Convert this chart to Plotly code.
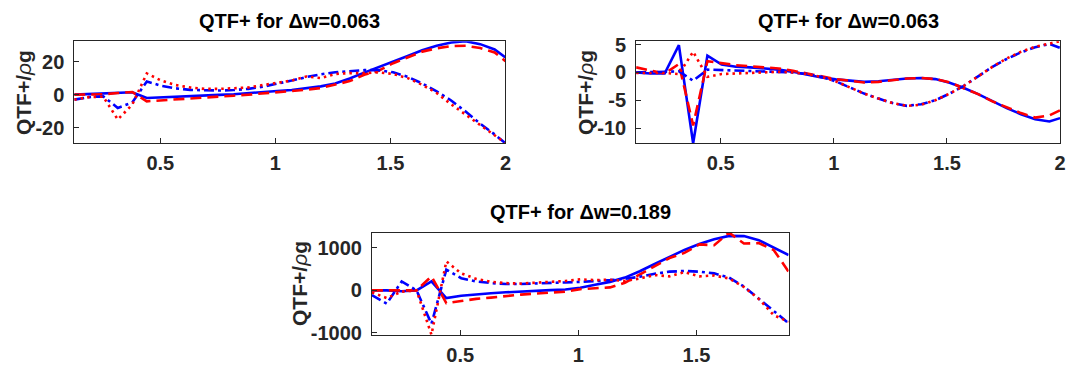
import plotly.graph_objects as go

# ---------------- data ----------------
freq = [0.126, 0.189, 0.252, 0.315, 0.378, 0.441, 0.504, 0.567, 0.630, 0.693,
        0.756, 0.819, 0.882, 0.945, 1.008, 1.071, 1.134, 1.197, 1.260, 1.323,
        1.386, 1.449, 1.512, 1.575, 1.638, 1.701, 1.764, 1.827, 1.890, 1.953, 2.000]
freq3 = freq[:29]

# panel 1 (dw = 0.063)
p1_solid = [0, 0.3, 0.7, 1.0, 1.5, -2.0, -1.7, -1.3, -0.9, -0.5, -0.1, 0.3, 0.8, 1.3,
            2.2, 2.8, 3.7, 5.0, 6.8, 9.8, 13.3, 16.5, 20.0, 23.3, 26.8, 29.5, 31.5, 32.3, 30.5, 27.3, 22.5]
p1_dash = [0, 0, 0.2, 1.0, 1.6, -4.0, -3.5, -3.0, -2.4, -1.8, -1.2, -0.6, 0, 0.7,
           1.4, 2.2, 3.0, 4.0, 6.0, 8.2, 12.0, 14.5, 19.0, 22.5, 26.0, 28.0, 29.3, 29.5, 28.2, 25.5, 20.2]
p1_dashdot = [-3.0, -1.5, -1.0, -8.0, -4.7, 8.0, 5.4, 3.8, 2.9, 2.5, 2.5, 2.8, 3.5, 4.8,
              6.5, 8.5, 10.6, 12.3, 13.5, 14.3, 14.8, 14.8, 13.5, 10.8, 6.8, 2.0, -3.5, -10.2, -17.5, -24.0, -29.3]
p1_dot = [-3.0, -1.5, -1.2, -15.0, -6.0, 12.8, 8.5, 5.8, 4.3, 3.5, 3.5, 3.8, 4.3, 5.8,
          7.2, 8.5, 11.0, 10.0, 12.5, 13.0, 13.0, 13.5, 12.5, 10.0, 6.0, 1.0, -5.8, -12.0, -18.5, -24.5, -29.2]

# panel 2 (dw = 0.063)
p2_solid = [0, -0.2, -0.2, 4.9, -12.7, 3.0, 1.4, 1.0, 0.9, 0.7, 0.5, 0.1, -0.4, -0.9,
            -1.25, -1.5, -1.7, -1.6, -1.3, -1.1, -1.0, -1.2, -1.85, -2.8, -3.9, -5.2, -6.4, -7.5, -8.4, -8.8, -8.2]
p2_dash = [0.9, 0.3, -0.2, 1.5, -9.5, 2.0, 1.6, 1.3, 1.1, 0.9, 0.7, 0.3, -0.2, -0.8,
           -1.2, -1.5, -1.8, -1.7, -1.4, -1.1, -1.0, -1.2, -1.8, -2.8, -3.9, -5.2, -6.3, -7.3, -8.1, -7.7, -6.8]
p2_dashdot = [0, 0, 0.1, 0.2, -1.5, 0.5, 0.4, 0.3, 0.2, 0.2, 0.1, 0, -0.3, -0.8,
              -1.6, -2.7, -3.8, -4.7, -5.5, -6.0, -5.7, -5.0, -3.8, -2.4, -0.7, 1.0, 2.4, 3.6, 4.5, 5.1, 4.4]
p2_dot = [-0.1, -0.1, -0.1, -0.3, 3.7, -0.8, -0.3, -0.2, -0.1, 0, 0.1, 0, -0.3, -0.8,
          -1.6, -2.7, -3.8, -4.7, -5.5, -6.0, -5.8, -5.0, -3.8, -2.4, -0.7, 1.0, 2.5, 3.7, 4.6, 5.2, 5.6]

# panel 3 (dw = 0.189)
p3_solid = [0, 0, -20, 0, 210, -180, -127, -90, -67, -45, -22, -7, 7, 22,
            60, 130, 200, 300, 450, 620, 790, 950, 1090, 1200, 1280, 1275, 1180, 1000, 830]
p3_dash = [0, 0, -10, 0, 330, -300, -250, -200, -170, -130, -100, -75, -45, -30,
           30, 50, 70, 180, 380, 560, 760, 880, 1080, 1060, 1357, 1100, 1110, 950, 440]
p3_dashdot = [-110, -310, 210, 0, -785, 487, 285, 210, 172, 150, 150, 157, 172, 187,
              200, 215, 240, 270, 320, 390, 440, 455, 440, 400, 300, 90, -200, -480, -770]
p3_dot = [-50, -180, -30, 0, -1040, 680, 400, 270, 200, 170, 160, 180, 200, 220,
          260, 240, 250, 220, 280, 360, 330, 430, 330, 350, 280, 80, -200, -580, -740]

titles = ["QTF+ for \u0394w=0.063", "QTF+ for \u0394w=0.063", "QTF+ for \u0394w=0.189"]
x_ticks = [[0.5, 1, 1.5, 2], [0.5, 1, 1.5, 2], [0.5, 1, 1.5]]
x_ticklabels = [["0.5", "1", "1.5", "2"], ["0.5", "1", "1.5", "2"], ["0.5", "1", "1.5"]]
y_ticks = [[-20, 0, 20], [-10, -5, 0, 5], [-1000, 0, 1000]]
y_ticklabels = [["-20", "0", "20"], ["-10", "-5", "0", "5"], ["-1000", "0", "1000"]]

# ---------------- styling ----------------
W, H = 1077, 374
FONT = "Liberation Sans, Arial, Helvetica, sans-serif"
AX = "#262626"
BLUE = "#0000FF"
RED = "#FF0000"
LW = 2.6

# pixel boxes (left, right, top, bottom)
boxes = [(74.7, 508.3, 35.7, 142.3), (639.7, 1066.0, 35.7, 142.3), (374.0, 793.0, 235.7, 342.3)]
ylab_x = [23, 588, 301]

panels = [
    (freq, [p1_solid, p1_dash, p1_dashdot, p1_dot]),
    (freq, [p2_solid, p2_dash, p2_dashdot, p2_dot]),
    (freq3, [p3_solid, p3_dash, p3_dashdot, p3_dot]),
]
styles = [
    dict(color=BLUE, dash="solid"),
    dict(color=RED, dash="11px,6px"),
    dict(color=BLUE, dash="10px,4px,3px,4px"),
    dict(color=RED, dash="2.5px,4px"),
]

fig = go.Figure()
annotations = []
for i, (xs, series) in enumerate(panels):
    n = "" if i == 0 else str(i + 1)
    l, r, t, b = boxes[i]
    for s, st in zip(series, styles):
        fig.add_trace(go.Scatter(x=xs, y=s, mode="lines", xaxis="x" + n, yaxis="y" + n,
                                 line=dict(color=st["color"], dash=st["dash"], width=LW),
                                 showlegend=False, hoverinfo="skip"))
    allv = [v for s in series for v in s]
    ymin, ymax = min(allv), max(allv)
    common = dict(showgrid=False, zeroline=False, showline=True, linecolor=AX, linewidth=1,
                  mirror=True, ticks="inside", ticklen=5, tickcolor=AX, tickwidth=1,
                  tickfont=dict(family=FONT, size=20, color=AX, weight="bold"))
    fig.update_layout(**{
        "xaxis" + n: dict(domain=[l / W, r / W], range=[xs[0], xs[-1]], anchor="y" + n,
                          tickvals=x_ticks[i], ticktext=x_ticklabels[i],
                          ticklabelstandoff=2, **common),
        "yaxis" + n: dict(domain=[1 - b / H, 1 - t / H], range=[ymin, ymax], anchor="x" + n,
                          tickvals=y_ticks[i], ticktext=y_ticklabels[i],
                          ticklabelstandoff=5, **common),
    })
    annotations.append(dict(text="<b>" + titles[i] + "</b>", xref="paper", yref="paper",
                            x=(l + r) / 2 / W, y=1 - (t - 8) / H, xanchor="center", yanchor="bottom",
                            showarrow=False, font=dict(family=FONT, size=20, color="black")))
    annotations.append(dict(text="<b>QTF+/</b><i>\u03c1</i><b>g</b>", xref="paper", yref="paper",
                            x=ylab_x[i] / W, y=1 - (t + b) / 2 / H, xanchor="center", yanchor="middle",
                            textangle=-90, showarrow=False,
                            font=dict(family=FONT, size=21, color=AX)))

fig.update_layout(width=W, height=H, margin=dict(l=0, r=0, t=0, b=0),
                  paper_bgcolor="white", plot_bgcolor="white", annotations=annotations)
fig.write_html("out.html", config={"displayModeBar": False},
               post_script="document.body.style.margin='0';document.body.style.overflow='hidden';")
